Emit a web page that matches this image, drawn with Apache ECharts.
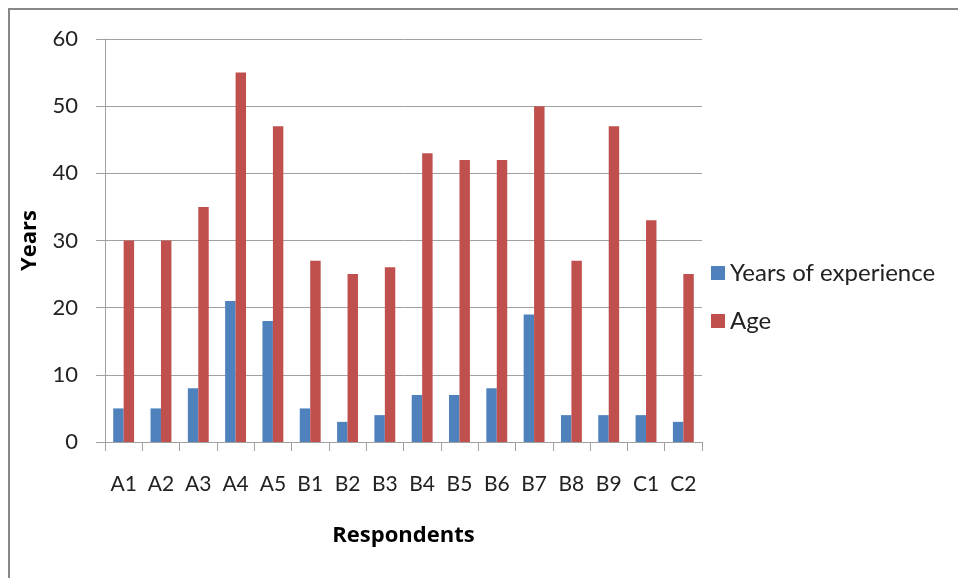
<!DOCTYPE html>
<html>
<head>
<meta charset="utf-8">
<script src="https://cdn.jsdelivr.net/npm/echarts@6/dist/echarts.min.js"></script>
<style>
  html, body { margin: 0; padding: 0; background: #ffffff; }
  #chart { width: 958px; height: 578px; }
</style>
</head>
<body>
<div id="chart"></div>
<script>
// Respondent codes along the category axis
var respondents = ['A1', 'A2', 'A3', 'A4', 'A5', 'B1', 'B2', 'B3', 'B4', 'B5', 'B6', 'B7', 'B8', 'B9', 'C1', 'C2'];
// Years of experience per respondent
var experience = [5, 5, 8, 21, 18, 5, 3, 4, 7, 7, 8, 19, 4, 4, 4, 3];
// Age per respondent
var age = [30, 30, 35, 55, 47, 27, 25, 26, 43, 42, 42, 50, 27, 47, 33, 25];
// Value axis range and step
var yMin = 0, yMax = 60, yStep = 10;

var FONT = 'Lato, "Open Sans", sans-serif';
var TITLE_FONT = '"Open Sans", Lato, sans-serif';
var GRID = '#a0a0a0';
var TEXT = '#222222';

var chart = echarts.init(document.getElementById('chart'), null, { renderer: 'canvas' });

chart.setOption({
  backgroundColor: '#ffffff',
  animation: false,
  textStyle: { fontFamily: FONT },
  graphic: [{
    type: 'rect',
    shape: { x: 9, y: 9, width: 1200, height: 1200 },
    style: { fill: 'none', stroke: '#878787', lineWidth: 2 },
    silent: true,
    z: -1
  }],
  grid: { left: 105, right: 256, top: 39, bottom: 136 },
  legend: {
    orient: 'vertical',
    left: 706,
    top: 256,
    itemWidth: 14,
    itemHeight: 14,
    itemGap: 24,
    icon: 'rect',
    textStyle: { fontFamily: FONT, fontSize: 24, color: TEXT },
    data: ['Years of experience', 'Age']
  },
  xAxis: {
    type: 'category',
    data: respondents,
    boundaryGap: true,
    name: 'Respondents',
    nameLocation: 'middle',
    nameGap: 83,
    nameTextStyle: { fontFamily: TITLE_FONT, fontSize: 22, fontWeight: 'bold', color: '#000' },
    axisLine: { lineStyle: { color: GRID, width: 1 } },
    axisTick: { show: true, length: 9, alignWithLabel: false, lineStyle: { color: GRID } },
    axisLabel: { fontFamily: FONT, fontSize: 21, color: TEXT, margin: 32, interval: 0 },
    splitLine: { show: false }
  },
  yAxis: {
    type: 'value',
    min: yMin,
    max: yMax,
    interval: yStep,
    name: 'Years',
    nameLocation: 'middle',
    nameGap: 64,
    nameRotate: 90,
    nameTextStyle: { fontFamily: TITLE_FONT, fontSize: 22, fontWeight: 'bold', color: '#000' },
    axisLine: { show: true, lineStyle: { color: GRID, width: 1 } },
    axisTick: { show: true, length: 9, lineStyle: { color: GRID } },
    axisLabel: { fontFamily: FONT, fontSize: 22, color: TEXT, margin: 27 },
    splitLine: { show: true, lineStyle: { color: GRID, width: 1 } }
  },
  series: [
    {
      name: 'Years of experience',
      type: 'bar',
      data: experience,
      barGap: '0%',
      barCategoryGap: '44%',
      itemStyle: { color: '#4f81bd' }
    },
    {
      name: 'Age',
      type: 'bar',
      data: age,
      barGap: '0%',
      barCategoryGap: '44%',
      itemStyle: { color: '#c0504d' }
    }
  ]
});
</script>
</body>
</html>
